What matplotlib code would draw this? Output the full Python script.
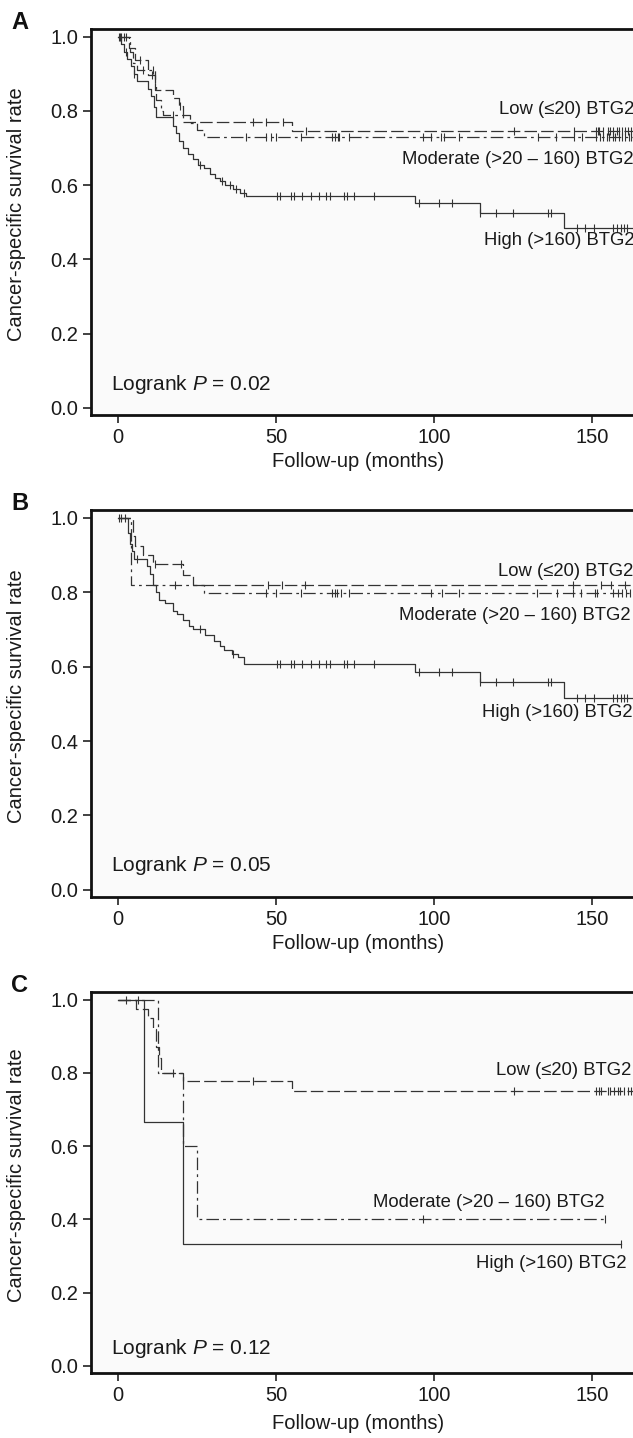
import numpy as np
import matplotlib.pyplot as plt

plt.rcParams['font.family'] = ['Liberation Sans', 'DejaVu Sans']
plt.rcParams['mathtext.fontset'] = 'custom'
plt.rcParams['mathtext.rm'] = 'Liberation Sans'
plt.rcParams['mathtext.it'] = 'Liberation Sans:italic'
plt.rcParams['lines.scale_dashes'] = False

# ---------------- data (months, survival after each drop) ----------------
# Panel A
a_high_t = [0, 1, 2, 3, 4, 5, 6, 9.5, 10.5, 11.3, 12.1, 17.5, 18.5, 19.5, 20.6, 22.2, 23.7,
            25.5, 27.4, 29, 30.6, 32.2, 34, 36.4, 38.5, 40.6, 94.1, 114.6, 141.2]
a_high_s = [1, 0.98, 0.96, 0.94, 0.92, 0.90, 0.88, 0.86, 0.84, 0.81, 0.783, 0.76, 0.74, 0.72,
            0.70, 0.685, 0.67, 0.655, 0.645, 0.63, 0.62, 0.61, 0.60, 0.59, 0.58, 0.571, 0.551,
            0.525, 0.485]
a_high_c = [0.4, 2.6, 5.2, 26, 33, 35.5, 37.5, 40, 50.5, 51.2, 54.8, 55.6, 58.4, 61, 63.5, 66,
            67, 71.4, 72.4, 74.7, 81, 95.4, 101.5, 105.7, 114.6, 119.5, 125.1, 136, 137, 145.3,
            147.8, 150.6, 156.8, 158, 159.3, 160.3, 161.2]
a_low_t = [0, 3.5, 5.3, 9.5, 11.6, 17.4, 19.5, 20.6, 55.2]
a_low_s = [1, 0.97, 0.937, 0.897, 0.856, 0.834, 0.812, 0.771, 0.747]
a_low_c = [0.6, 2, 7, 10.8, 19.8, 42.7, 47, 52.2, 59.4, 125.4, 144.2, 151.2, 151.8, 152.4,
           153.5, 155, 155.6, 156.8, 157.8, 158.5, 159.5, 160.4, 161.5, 162.3]
a_mod_t = [0, 3.7, 4.8, 6, 11.6, 12.2, 13.7, 14.2, 22.8, 24.9, 27.4]
a_mod_s = [1, 0.96, 0.93, 0.91, 0.874, 0.829, 0.80, 0.789, 0.767, 0.75, 0.729]
a_mod_c = [1, 2.5, 8, 11, 17.3, 40.6, 47, 48.5, 50.1, 58, 67.9, 68.8, 69.5, 70, 73.2, 96.4,
           99, 102.2, 103.3, 108, 132.8, 138.6, 144.4, 147, 151.3, 152.6, 153.4, 154.7, 155.3,
           156.6, 157.4, 158.7, 159.6, 160.4, 161.7, 162.4]

# Panel B
b_high_t = [0, 3.2, 3.8, 4.5, 5.1, 9.2, 10.1, 11.1, 12.1, 13, 14.9, 17.5, 18.8, 20.7, 22.6,
            23.9, 27.7, 30.3, 32.2, 33.5, 36, 37.9, 39.8, 94.1, 114.6, 141.2]
b_high_s = [1, 0.96, 0.93, 0.91, 0.89, 0.87, 0.85, 0.82, 0.80, 0.78, 0.77, 0.75, 0.74, 0.725,
            0.71, 0.70, 0.685, 0.67, 0.655, 0.645, 0.635, 0.625, 0.607, 0.585, 0.558, 0.515]
b_high_c = [0.5, 6, 26, 36.5, 50.5, 51.2, 54.8, 55.6, 58.4, 61, 63.5, 66, 67, 71.4, 72.4, 74.7,
            81, 95.4, 101.5, 105.7, 114.6, 119.5, 125.1, 136, 137, 145.3, 147.8, 150.6, 156.8,
            158, 159.3, 160.3, 161.2]
b_low_t = [0, 4.7, 5.5, 7.9, 11.1, 20.7, 23.9]
b_low_s = [1, 0.95, 0.924, 0.90, 0.875, 0.845, 0.82]
b_low_c = [0.9, 2.2, 11.7, 20, 47.5, 52, 59.3, 144, 152.9, 156.1, 160.6]
b_mod_t = [0, 4.0, 27.1]
b_mod_s = [1, 0.818, 0.797]
b_mod_c = [18.1, 46.9, 50.1, 58.1, 67.9, 68.6, 69.4, 70.5, 73.1, 99, 102.5, 107.9, 132.5,
           138.9, 144, 146.5, 151, 151.6, 156.8, 158.2, 159.6, 160.9, 162.2]

# Panel C
c_high_t = [0, 8.4, 20.6]
c_high_s = [1, 0.667, 0.333]
c_high_c = [6.4, 159.3]
c_low_t = [0, 5.6, 9.5, 11.1, 12.1, 13, 13.7, 20.6, 55.2]
c_low_s = [1, 0.975, 0.95, 0.92, 0.87, 0.84, 0.80, 0.778, 0.75]
c_low_c = [2.7, 17.4, 42.9, 125.4, 151.4, 152.2, 153, 155, 155.8, 157, 158.3, 159, 160.2,
           161.4, 162.5]
c_mod_t = [0, 12.8, 20.6, 25.0]
c_mod_s = [1, 0.8, 0.6, 0.4]
c_mod_c = [96.5, 154.2]

ends = {'A': (163.5, 163.5, 163.5), 'B': (163.5, 163.5, 163.5), 'C': (159.3, 163.5, 154.2)}
pvals = {'A': '0.02', 'B': '0.05', 'C': '0.12'}
group_names = ['High (>160) BTG2', 'Low (\u226420) BTG2', 'Moderate (>20 \u2013 160) BTG2']
# label anchors (month, survival) for High / Low / Moderate
label_pos = {'A': [(115.9, 0.452), (120.7, 0.804), (89.9, 0.668)],
             'B': [(115.2, 0.477), (120.3, 0.855), (89.0, 0.738)],
             'C': [(113.3, 0.28), (119.5, 0.807), (80.7, 0.446)]}
logrank_y = {'A': 0.062, 'B': 0.066, 'C': 0.047}

panels = {
    'A': [(a_high_t, a_high_s, a_high_c), (a_low_t, a_low_s, a_low_c), (a_mod_t, a_mod_s, a_mod_c)],
    'B': [(b_high_t, b_high_s, b_high_c), (b_low_t, b_low_s, b_low_c), (b_mod_t, b_mod_s, b_mod_c)],
    'C': [(c_high_t, c_high_s, c_high_c), (c_low_t, c_low_s, c_low_c), (c_mod_t, c_mod_s, c_mod_c)],
}
styles = ['-', (0, (9, 3)), (0, (9, 3, 2, 3))]
line_col = '#333333'

# ---------------- layout in pixels ----------------
W, H = 633, 1438
fig = plt.figure(figsize=(W / 100, H / 100), dpi=100)
boxes = {'A': (29.3, 386), 'B': (510.3, 387), 'C': (992.3, 381)}
xlab_gap = {'A': 37, 'B': 37, 'C': 41}
left_px, width_px = 90.7, 548.6

for key in ['A', 'B', 'C']:
    top, hgt = boxes[key]
    ax = fig.add_axes([left_px / W, 1 - (top + hgt) / H, width_px / W, hgt / H])
    ax.set_facecolor('#fafafa')

    for (t, s, c), ls, end in zip(panels[key], styles, ends[key]):
        x = list(t) + [end]
        y = list(s) + [s[-1]]
        ax.step(x, y, where='post', color=line_col, lw=0.9, ls=ls)
        c = np.array(c)
        idx = np.searchsorted(t, c, side='right') - 1
        cy = np.array(s)[idx]
        ax.plot(c, cy, ls='none', marker='|', ms=6, mew=0.8, color=line_col)

    for name, (lx, ly) in zip(group_names, label_pos[key]):
        ax.text(lx, ly, name, fontsize=13.3, ha='left', va='center', color='#1a1a1a')
    ax.text(-2.1, logrank_y[key], r'Logrank $P$ = ' + pvals[key], fontsize=15,
            ha='left', va='center', color='#1a1a1a')

    ax.set_xlim(-8.6, 165)
    ax.set_ylim(-0.02, 1.02)
    ax.set_xticks([0, 50, 100, 150])
    ax.set_yticks([0, 0.2, 0.4, 0.6, 0.8, 1.0])
    ax.set_yticklabels(['0.0', '0.2', '0.4', '0.6', '0.8', '1.0'])
    ax.tick_params(direction='out', length=6, width=1.2, labelsize=14.5, pad=3,
                   color='#222222', labelcolor='#1a1a1a')
    for sp in ax.spines.values():
        sp.set_linewidth(2.0)
        sp.set_color('#111111')
    ax.set_xlabel('Follow-up (months)', fontsize=14.5, color='#1a1a1a')
    ax.set_ylabel('Cancer-specific survival rate', fontsize=14.5, color='#1a1a1a')
    ax.xaxis.set_label_coords(0.487, -xlab_gap[key] / hgt)
    ax.yaxis.set_label_coords(-0.118, 0.52)

    fig.text(20 / W, 1 - (top - 7) / H, key, fontsize=17, fontweight='bold',
             ha='center', va='center', color='#111111')

fig.savefig('out.png', dpi=100)
